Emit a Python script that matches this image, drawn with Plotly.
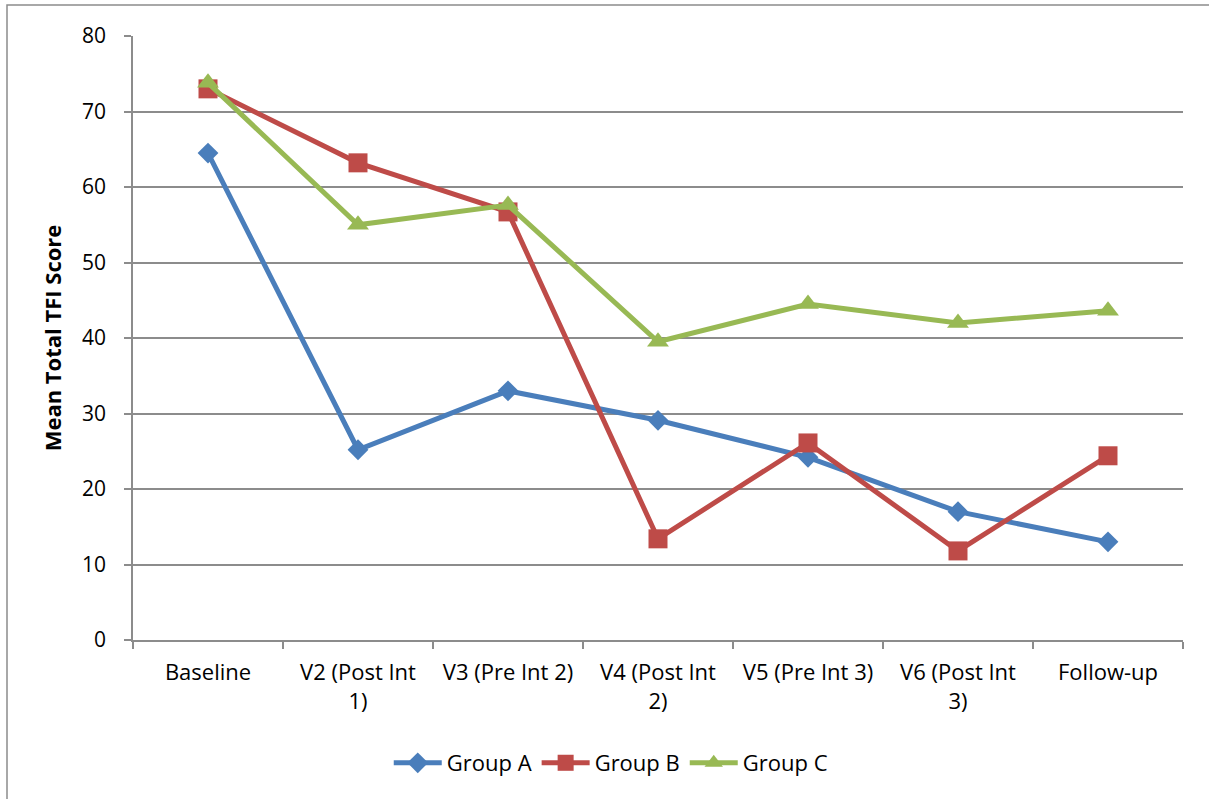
import plotly.graph_objects as go

# Visit labels (x axis categories)
visits = [
    "Baseline",
    "V2 (Post Int<br>1)",
    "V3 (Pre Int 2)",
    "V4 (Post Int<br>2)",
    "V5 (Pre Int 3)",
    "V6 (Post Int<br>3)",
    "Follow-up",
]

# Mean total TFI score per group at each visit
group_a = [64.5, 25.2, 33.0, 29.1, 24.2, 17.0, 13.0]
group_b = [73.0, 63.2, 56.7, 13.4, 26.1, 11.8, 24.4]
group_c = [73.8, 55.0, 57.6, 39.5, 44.5, 42.0, 43.6]

y_ticks = [0, 10, 20, 30, 40, 50, 60, 70, 80]

FONT = "Open Sans, Lato, DejaVu Sans, sans-serif"
GRID = "#8c8c8c"

series = [
    ("Group A", group_a, "#4A7EBB", "diamond", 16),
    ("Group B", group_b, "#BE4B48", "square", 19),
    ("Group C", group_c, "#98B954", "triangle-up", 19),
]

fig = go.Figure()
for name, vals, color, symbol, size in series:
    fig.add_trace(go.Scatter(
        x=visits,
        y=vals,
        name=name,
        mode="lines+markers",
        line=dict(color=color, width=5),
        marker=dict(symbol=symbol, size=size, color=color, line=dict(width=0)),
    ))

W, H = 1209, 799
L, R, T, B = 133, 26, 36, 159
pw, ph = W - L - R, H - T - B

def px_x(p):
    return (p - L) / pw

def px_y(p):
    return (H - B - p) / ph

fig.update_layout(
    width=W,
    height=H,
    margin=dict(l=L, r=R, t=T, b=B),
    paper_bgcolor="white",
    plot_bgcolor="white",
    font=dict(family=FONT, size=20, color="black"),
    showlegend=True,
    legend=dict(
        orientation="h",
        x=0.455,
        xanchor="center",
        y=px_y(763),
        yanchor="middle",
        font=dict(family=FONT, size=22, color="black"),
        itemwidth=48,
        tracegroupgap=0,
    ),
    xaxis=dict(
        type="category",
        range=[-0.5, 6.5],
        showgrid=False,
        showline=True,
        linecolor=GRID,
        linewidth=1.5,
        ticks="outside",
        tickson="boundaries",
        ticklen=7,
        tickcolor=GRID,
        tickwidth=1.5,
        ticklabelstandoff=12,
        tickfont=dict(family=FONT, size=22, color="black"),
        fixedrange=True,
    ),
    yaxis=dict(
        range=[0, 80],
        tickvals=y_ticks,
        showgrid=True,
        gridcolor=GRID,
        gridwidth=1.5,
        zeroline=False,
        showline=True,
        linecolor=GRID,
        linewidth=1.5,
        ticks="outside",
        ticklen=7,
        tickcolor=GRID,
        tickwidth=1.5,
        ticklabelstandoff=14,
        tickfont=dict(family=FONT, size=21, color="black"),
        title=dict(
            text="<b>Mean Total TFI Score</b>",
            font=dict(family=FONT, size=22, color="black"),
            standoff=14,
        ),
        fixedrange=True,
    ),
    shapes=[
        dict(
            type="rect",
            xref="paper",
            yref="paper",
            x0=px_x(7),
            x1=px_x(W + 10),
            y0=px_y(H + 10),
            y1=px_y(5),
            line=dict(color=GRID, width=1.5),
            fillcolor="rgba(0,0,0,0)",
            layer="below",
        )
    ],
)

fig.write_html("out.html")
